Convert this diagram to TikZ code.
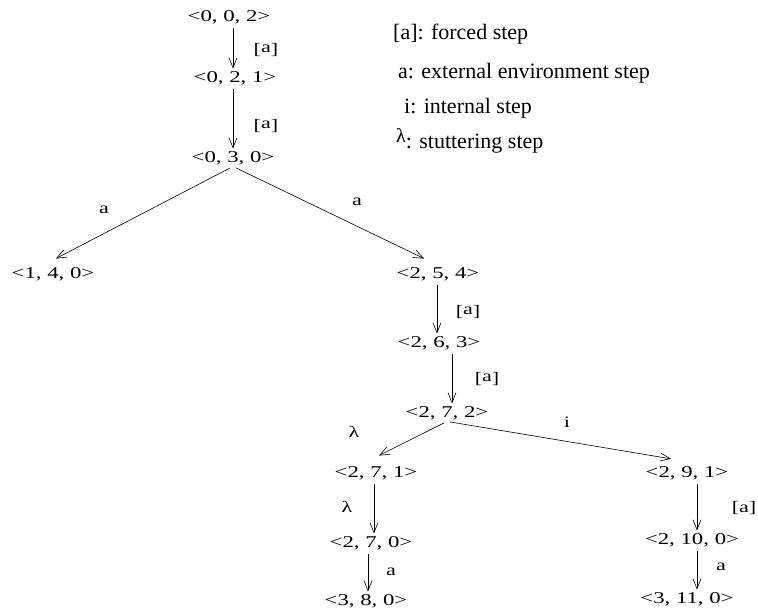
\documentclass[tikz,border=0pt]{standalone}
\usepackage{fontspec}
\setmainfont{Liberation Serif}
\newfontfamily\widefont[FakeStretch=1.38]{Liberation Serif}
\usetikzlibrary{arrows.meta}
\begin{document}
\begin{tikzpicture}[x=1pt,y=-1pt,
  state/.style={font=\widefont\fontsize{16.5}{18}\selectfont, inner sep=1.5pt},
  trans/.style={-{Straight Barb[length=10pt,width=8pt]}, line width=0.6pt, shorten <=3pt, shorten >=1pt},
  lab/.style={font=\widefont\fontsize{16}{18}\selectfont, inner sep=0pt},
  legend/.style={font=\fontsize{22}{24}\selectfont, anchor=west, inner sep=0pt}]
\useasboundingbox (0,0) rectangle (758,613);

% States
\node[state] (s002) at (229,17) {<0, 0, 2>};
\node[state] (s021) at (235,78) {<0, 2, 1>};
\node[state] (s030) at (233,158) {<0, 3, 0>};
\node[state] (s140) at (53,274) {<1, 4, 0>};
\node[state] (s254) at (438,274) {<2, 5, 4>};
\node[state] (s263) at (439,343) {<2, 6, 3>};
\node[state] (s272) at (447,413) {<2, 7, 2>};
\node[state] (s271) at (376,473) {<2, 7, 1>};
\node[state] (s291) at (687,473) {<2, 9, 1>};
\node[state] (s270) at (371,543) {<2, 7, 0>};
\node[state] (s2100) at (692,540) {<2, 10, 0>};
\node[state] (s380) at (366,601) {<3, 8, 0>};
\node[state] (s3110) at (687,599) {<3, 11, 0>};

% Transitions
\draw[trans] (s002.south -| 233,0) -- (s021.north -| 233,0);
\draw[trans] (s021.south -| 233,0) -- (s030.north -| 233,0);
\draw[trans] (s030.south) -- (55,259) coordinate (e140);
\draw[trans] (s030.south) -- (425,259) coordinate (e254);
\draw[trans] (s254.south -| 437,0) -- (s263.north -| 437,0);
\draw[trans] (s263.south -| 452,0) -- (s272.north -| 452,0);
\draw[trans] (s272.south) -- (378,456) coordinate (e271);
\draw[trans] (s272.south) -- (672,459) coordinate (e291);
\draw[trans] (s271.south -| 374,0) -- (s270.north -| 374,0);
\draw[trans] (s270.south -| 368,0) -- (s380.north -| 368,0);
\draw[trans] (s291.south -| 697,0) -- (s2100.north -| 697,0);
\draw[trans] (s2100.south -| 697,0) -- (s3110.north -| 697,0);

% Transition labels
\node[lab] (l1) at (266,50) {[\raisebox{2pt}{a}]};
\node[lab] (l2) at (266,126) {[\raisebox{2pt}{a}]};
\node[lab] (l3) at (104,210) {a};
\node[lab] (l4) at (357,202) {a};
\node[lab] (l5) at (468,312) {[\raisebox{2pt}{a}]};
\node[lab] (l6) at (487,379) {[\raisebox{2pt}{a}]};
\node[lab] (l7) at (354,432) {λ};
\node[lab] (l8) at (567,422) {i};
\node[lab] (l9) at (347,507) {λ};
\node[lab] (l10) at (391,572) {a};
\node[lab] (l11) at (744,508) {[a]};
\node[lab] (l12) at (721,567) {a};

% Legend
\node[legend] (g1) at (393,34) {[a]: forced step};
\node[legend] (g2) at (398,73) {a: external environment step};
\node[legend] (g3) at (404,108) {i: internal step};
\node[legend] (g4) at (396,141) {\raisebox{6pt}{\fontsize{20}{22}\selectfont λ}: stuttering step};
\end{tikzpicture}
\end{document}
